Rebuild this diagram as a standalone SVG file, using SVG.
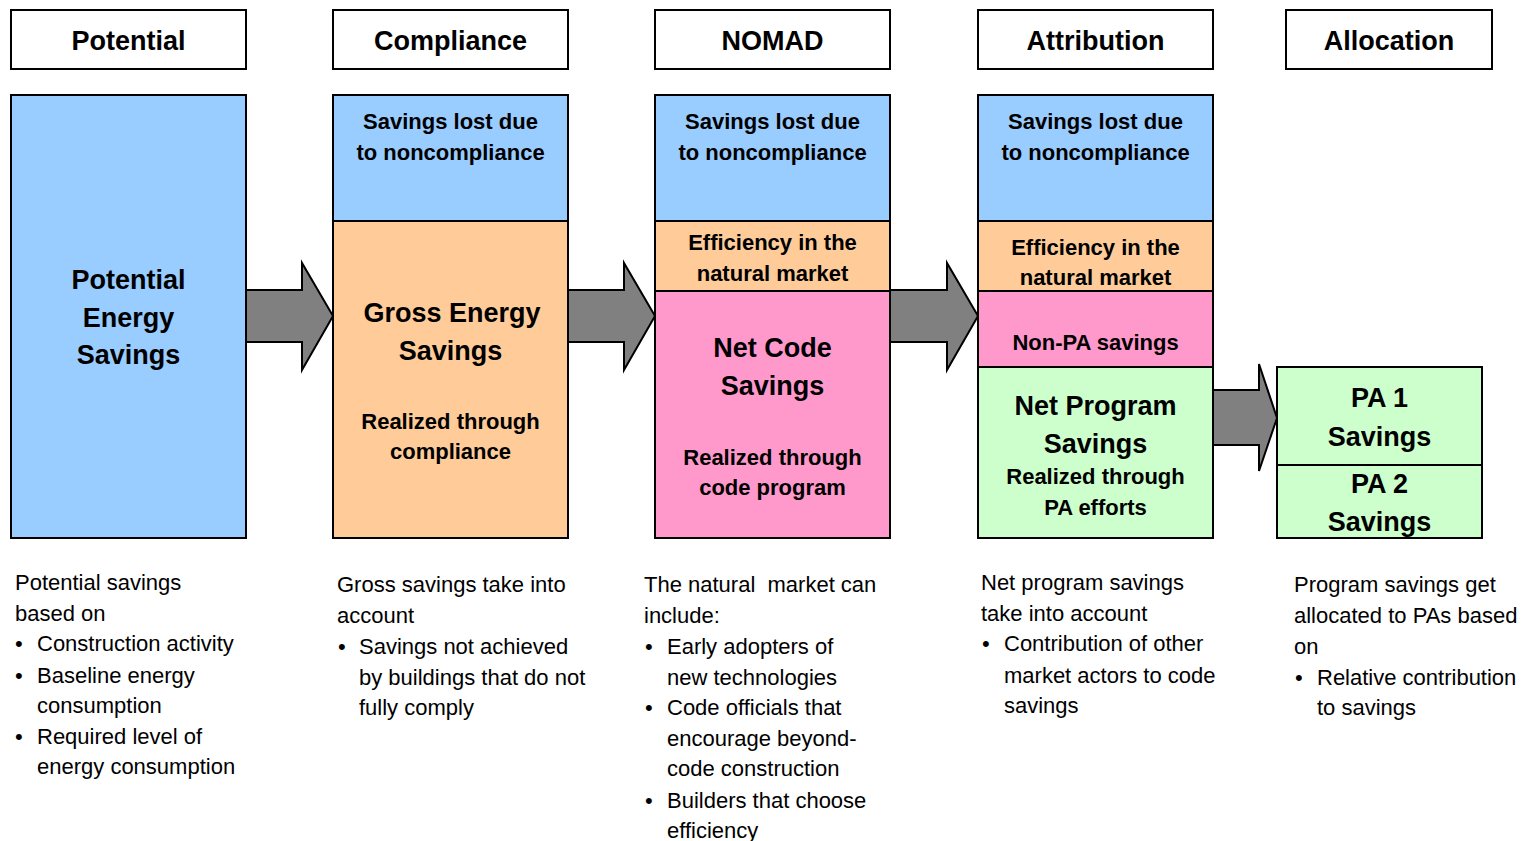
<svg xmlns="http://www.w3.org/2000/svg" width="1526" height="841" viewBox="0 0 1526 841">
<style>
.hdr{fill:#fff;stroke:#000;stroke-width:2}
.blue{fill:#99CCFF;stroke:#000;stroke-width:2}
.orange{fill:#FFCC99;stroke:#000;stroke-width:2}
.pink{fill:#FF99CC;stroke:#000;stroke-width:2}
.green{fill:#CCFFCC;stroke:#000;stroke-width:2}
.arrow{fill:#808080;stroke:#000;stroke-width:2;stroke-linejoin:miter}
text{font-family:"Liberation Sans",Arial,sans-serif;fill:#000}
.h{font-size:27px;font-weight:bold;text-anchor:middle}
.big{font-size:27px;font-weight:bold;text-anchor:middle}
.med{font-size:22px;font-weight:bold;text-anchor:middle}
.note{font-size:22px}
</style>
<rect width="1526" height="841" fill="#fff"/>
<g id="connectors">
<polygon class="arrow" points="246,290 302,290 302,263 333,316 302,370 302,342 246,342"/>
<polygon class="arrow" points="568,290 624,290 624,263 655,316 624,370 624,342 568,342"/>
<polygon class="arrow" points="890,290 947,290 947,263 978,316 947,370 947,342 890,342"/>
<polygon class="arrow" points="1213,390 1259,390 1259,364 1277,418 1259,471 1259,445 1213,445"/>
</g>
<g id="header-potential"><rect class="hdr" x="11" y="10" width="235" height="59"/><text class="h" x="128.5" y="50">Potential</text></g>
<g id="header-compliance"><rect class="hdr" x="333" y="10" width="235" height="59"/><text class="h" x="450.5" y="50">Compliance</text></g>
<g id="header-nomad"><rect class="hdr" x="655" y="10" width="235" height="59"/><text class="h" x="772.5" y="50">NOMAD</text></g>
<g id="header-attribution"><rect class="hdr" x="978" y="10" width="235" height="59"/><text class="h" x="1095.5" y="50">Attribution</text></g>
<g id="header-allocation"><rect class="hdr" x="1286" y="10" width="206" height="59"/><text class="h" x="1389" y="50">Allocation</text></g>

<g id="potential-box">
<rect class="blue" x="11" y="95" width="235" height="443"/>
<text class="big" x="128.5" y="289">Potential</text>
<text class="big" x="128.5" y="327">Energy</text>
<text class="big" x="128.5" y="364">Savings</text>
</g>

<g id="compliance-box">
<rect class="blue" x="333" y="95" width="235" height="126"/>
<text class="med" x="450.5" y="129">Savings lost due</text>
<text class="med" x="450.5" y="160">to noncompliance</text>
<rect class="orange" x="333" y="221" width="235" height="317"/>
<text class="big" x="452" y="322">Gross Energy</text>
<text class="big" x="450.5" y="360">Savings</text>
<text class="med" x="450.5" y="429">Realized through</text>
<text class="med" x="450.5" y="459">compliance</text>
</g>

<g id="nomad-box">
<rect class="blue" x="655" y="95" width="235" height="126"/>
<text class="med" x="772.5" y="129">Savings lost due</text>
<text class="med" x="772.5" y="160">to noncompliance</text>
<rect class="orange" x="655" y="221" width="235" height="70"/>
<text class="med" x="772.5" y="250">Efficiency in the</text>
<text class="med" x="772.5" y="281">natural market</text>
<rect class="pink" x="655" y="291" width="235" height="247"/>
<text class="big" x="772.5" y="357">Net Code</text>
<text class="big" x="772.5" y="395">Savings</text>
<text class="med" x="772.5" y="465">Realized through</text>
<text class="med" x="772.5" y="495">code program</text>
</g>

<g id="attribution-box">
<rect class="blue" x="978" y="95" width="235" height="126"/>
<text class="med" x="1095.5" y="129">Savings lost due</text>
<text class="med" x="1095.5" y="160">to noncompliance</text>
<rect class="orange" x="978" y="221" width="235" height="70"/>
<text class="med" x="1095.5" y="255">Efficiency in the</text>
<text class="med" x="1095.5" y="285">natural market</text>
<rect class="pink" x="978" y="291" width="235" height="76"/>
<text class="med" x="1095.5" y="350">Non-PA savings</text>
<rect class="green" x="978" y="367" width="235" height="171"/>
<text class="big" x="1095.5" y="415">Net Program</text>
<text class="big" x="1095.5" y="453">Savings</text>
<text class="med" x="1095.5" y="484">Realized through</text>
<text class="med" x="1095.5" y="515">PA efforts</text>
</g>

<g id="allocation-box">
<rect class="green" x="1277" y="367" width="205" height="98"/>
<text class="big" x="1379.5" y="407">PA 1</text>
<text class="big" x="1379.5" y="446">Savings</text>
<rect class="green" x="1277" y="465" width="205" height="73"/>
<text class="big" x="1379.5" y="493">PA 2</text>
<text class="big" x="1379.5" y="531">Savings</text>
</g>

<g id="note-potential">
<text class="note" x="15" y="590">Potential savings</text>
<text class="note" x="15" y="621">based on</text>
<text class="note" x="15" y="651">•</text><text class="note" x="37" y="651">Construction activity</text>
<text class="note" x="15" y="683">•</text><text class="note" x="37" y="683">Baseline energy</text>
<text class="note" x="37" y="713">consumption</text>
<text class="note" x="15" y="744">•</text><text class="note" x="37" y="744">Required level of</text>
<text class="note" x="37" y="774">energy consumption</text>
</g>

<g id="note-compliance">
<text class="note" x="337" y="592">Gross savings take into</text>
<text class="note" x="337" y="623">account</text>
<text class="note" x="338" y="654">•</text><text class="note" x="359" y="654">Savings not achieved</text>
<text class="note" x="359" y="685">by buildings that do not</text>
<text class="note" x="359" y="715">fully comply</text>
</g>

<g id="note-nomad">
<text class="note" x="644" y="592" style="white-space:pre">The natural  market can</text>
<text class="note" x="644" y="623">include:</text>
<text class="note" x="645" y="654">•</text><text class="note" x="667" y="654">Early adopters of</text>
<text class="note" x="667" y="685">new technologies</text>
<text class="note" x="645" y="715">•</text><text class="note" x="667" y="715">Code officials that</text>
<text class="note" x="667" y="746">encourage beyond-</text>
<text class="note" x="667" y="776">code construction</text>
<text class="note" x="645" y="808">•</text><text class="note" x="667" y="808">Builders that choose</text>
<text class="note" x="667" y="838">efficiency</text>
</g>

<g id="note-attribution">
<text class="note" x="981" y="590">Net program savings</text>
<text class="note" x="981" y="621">take into account</text>
<text class="note" x="982" y="651">•</text><text class="note" x="1004" y="651">Contribution of other</text>
<text class="note" x="1004" y="683">market actors to code</text>
<text class="note" x="1004" y="713">savings</text>
</g>

<g id="note-allocation">
<text class="note" x="1294" y="592">Program savings get</text>
<text class="note" x="1294" y="623">allocated to PAs based</text>
<text class="note" x="1294" y="654">on</text>
<text class="note" x="1295" y="685">•</text><text class="note" x="1317" y="685">Relative contribution</text>
<text class="note" x="1317" y="715">to savings</text>
</g>
</svg>
